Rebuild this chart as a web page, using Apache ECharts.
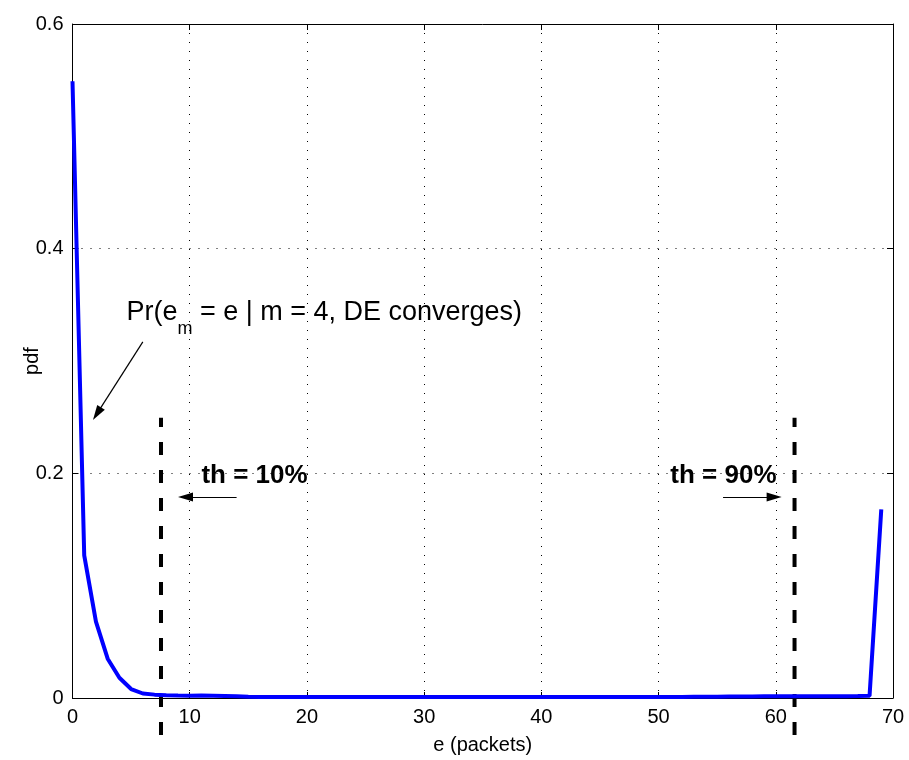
<!DOCTYPE html>
<html><head><meta charset="utf-8">
<script src="https://cdn.jsdelivr.net/npm/echarts@6/dist/echarts.min.js"></script>
<style>html,body{margin:0;padding:0;background:#fff}#c{width:909px;height:760px}</style>
</head><body><div id="c"></div>
<script>
// ---- data ----
const ePackets = [0,1,2,3,4,5,6,7,8,9,10,11,12,13,14,15,16,17,18,19,20,21,22,23,24,25,26,27,28,29,30,31,32,33,34,35,36,37,38,39,40,41,42,43,44,45,46,47,48,49,50,51,52,53,54,55,56,57,58,59,60,61,62,63,64,65,66,67,68,69];
const pdfValues = [0.549,0.127,0.068,0.035,0.018,0.008,0.004,0.003,0.0025,0.0022,0.002,0.0022,0.002,0.0018,0.0015,0.0012,0.001,0.001,0.0009,0.001,0.0009,0.0009,0.001,0.0009,0.0008,0.0009,0.0009,0.0008,0.0009,0.0009,0.0008,0.0008,0.0009,0.0008,0.0008,0.0009,0.0008,0.0008,0.0009,0.0008,0.0008,0.0009,0.0008,0.0008,0.0009,0.0009,0.0008,0.0009,0.0009,0.001,0.0009,0.001,0.001,0.0011,0.0012,0.0012,0.0013,0.0014,0.0014,0.0015,0.0015,0.0016,0.0015,0.0016,0.0016,0.0015,0.0016,0.0017,0.002,0.168];
const thresholdX = [7.55, 61.6];
const thresholdSpan = [-0.033, 0.2495];
const xTicks = [0,10,20,30,40,50,60,70];
const yTicks = [0,0.2,0.4,0.6];
const thLabels = ['th = 10%', 'th = 90%'];
const curveLabelMain = ['Pr(e', 'm', ' = e | m = 4, DE converges)'];

// annotation anchors (data coordinates)
const prLabelAt = [4.6, 0.343];
const prArrow = [[6.0, 0.317], [2.09, 0.2531]];
const thLabelAt = [[11.0, 0.198], [51.0, 0.198]];
const thArrows = [[[14.0, 0.179], [9.64, 0.179]], [[55.5, 0.179], [59.86, 0.179]]];

const FONT = '"Liberation Sans", Arial, Helvetica, sans-serif';
const chart = echarts.init(document.getElementById('c'), null, {renderer: 'canvas'});

const seriesData = ePackets.map((e, i) => [e, pdfValues[i]]);
function arrowItem(seg) {
  return [{coord: seg[0], symbol: 'none'}, {coord: seg[1], symbol: 'triangle', symbolSize: [9, 15]}];
}
const arrowLines = [arrowItem(prArrow), arrowItem(thArrows[0]), arrowItem(thArrows[1])];

const lineCommon = {show: true, onZero: false, lineStyle: {color: '#000', width: 1}};
const tickCommon = {show: true, inside: true, length: 6, lineStyle: {color: '#000'}};

const option = {
  animation: false,
  backgroundColor: '#fff',
  grid: {left: 72.5, right: 16, top: 24, bottom: 62, show: false},
  xAxis: [
    {
      type: 'value', min: 0, max: 70, interval: 10, position: 'bottom',
      axisLine: lineCommon, axisTick: tickCommon,
      axisLabel: {color: '#000', fontFamily: FONT, fontSize: 20, margin: 9},
      splitLine: {show: true, lineStyle: {color: '#000', width: 1, type: [1, 8]}},
      name: 'e (packets)', nameLocation: 'middle', nameGap: 37, nameMoveOverlap: false,
      nameTextStyle: {color: '#000', fontFamily: FONT, fontSize: 20}
    },
    {
      type: 'value', min: 0, max: 70, interval: 10, position: 'top',
      axisLine: lineCommon, axisTick: tickCommon,
      axisLabel: {show: false}, splitLine: {show: false}
    }
  ],
  yAxis: [
    {
      type: 'value', min: 0, max: 0.6, interval: 0.2, position: 'left',
      axisLine: lineCommon, axisTick: tickCommon,
      axisLabel: {color: '#000', fontFamily: FONT, fontSize: 20, margin: 9},
      splitLine: {show: true, lineStyle: {color: '#000', width: 1, type: [1, 8]}},
      name: 'pdf', nameLocation: 'middle', nameGap: 30, nameMoveOverlap: false,
      nameTextStyle: {color: '#000', fontFamily: FONT, fontSize: 20}
    },
    {
      type: 'value', min: 0, max: 0.6, interval: 0.2, position: 'right',
      axisLine: lineCommon, axisTick: tickCommon,
      axisLabel: {show: false}, splitLine: {show: false}
    }
  ],
  series: [
    {
      type: 'line', data: seriesData, symbol: 'none', clip: false,
      lineStyle: {color: '#0000ff', width: 4}, silent: true, z: 5,
      markLine: {
        silent: true, animation: false, symbol: ['none', 'triangle'],
        lineStyle: {color: '#000', width: 1.2, type: 'solid'},
        itemStyle: {color: '#000'},
        label: {show: false}, emphasis: {disabled: true},
        data: arrowLines
      }
    },
    {
      type: 'line', symbol: 'none', clip: false, silent: true, z: 4,
      data: [[thresholdX[0], thresholdSpan[0]], [thresholdX[0], thresholdSpan[1]]],
      lineStyle: {color: '#000', width: 4, type: [13, 15], cap: 'butt'}
    },
    {
      type: 'line', symbol: 'none', clip: false, silent: true, z: 4,
      data: [[thresholdX[1], thresholdSpan[0]], [thresholdX[1], thresholdSpan[1]]],
      lineStyle: {color: '#000', width: 4, type: [13, 15], cap: 'butt'}
    }
  ]
};
chart.setOption(option);

// text annotations placed from data coordinates
const ctx = document.createElement('canvas').getContext('2d');
function tw(text, size, weight) { ctx.font = (weight || 'normal') + ' ' + size + 'px ' + FONT; return ctx.measureText(text).width; }
const P = p => chart.convertToPixel({gridIndex: 0}, p);
const prPx = P(prLabelAt);
const mainSize = 27, subSize = 18;
const w1 = tw(curveLabelMain[0], mainSize);
const w2 = tw(curveLabelMain[1], subSize);
const graphics = [
  {type: 'text', x: prPx[0], y: prPx[1], silent: true,
    style: {text: curveLabelMain[0], fill: '#000', font: mainSize + 'px ' + FONT, align: 'left', verticalAlign: 'middle'}},
  {type: 'text', x: prPx[0] + w1, y: prPx[1] + 16, silent: true,
    style: {text: curveLabelMain[1], fill: '#000', font: subSize + 'px ' + FONT, align: 'left', verticalAlign: 'middle'}},
  {type: 'text', x: prPx[0] + w1 + w2, y: prPx[1], silent: true,
    style: {text: curveLabelMain[2], fill: '#000', font: mainSize + 'px ' + FONT, align: 'left', verticalAlign: 'middle'}}
];
thLabels.forEach((t, i) => {
  const p = P(thLabelAt[i]);
  graphics.push({type: 'text', x: p[0], y: p[1], silent: true,
    style: {text: t, fill: '#000', font: 'bold 26px ' + FONT, align: 'left', verticalAlign: 'middle'}});
});
chart.setOption({graphic: graphics});
</script>
</body></html>
